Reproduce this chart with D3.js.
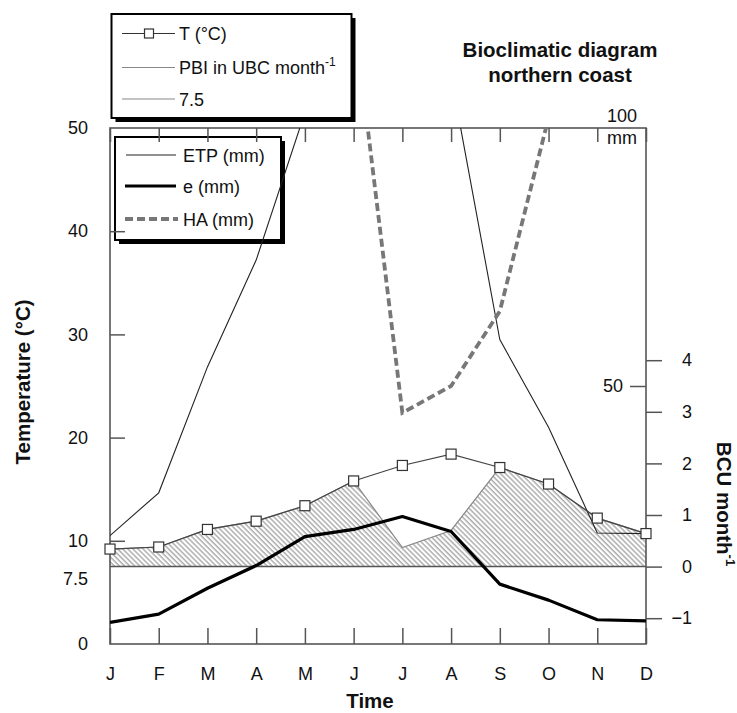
<!DOCTYPE html>
<html><head><meta charset="utf-8">
<script src="https://cdn.jsdelivr.net/npm/d3@7"></script>
<style>body{margin:0;background:#fff} text{font-family:"Liberation Sans",Arial,sans-serif;fill:#111}</style>
</head><body><svg id="c" width="737" height="713"></svg>
<script>
// ---- data ----
const months = ["J","F","M","A","M","J","J","A","S","O","N","D"];
const tempC  = [9.2,9.4,11.1,11.9,13.4,15.8,17.3,18.4,17.1,15.5,12.2,10.7];
const pbiBCU = [0.34,0.38,0.72,0.88,1.18,1.66,0.37,0.70,1.92,1.60,0.94,0.64];
const etpMM  = [21.0,29.3,53.7,74.4,103,125,130,110,59,42,21.5,21.4];
const eMM    = [4.2,5.8,10.8,15.2,20.8,22.2,24.7,21.8,11.6,8.5,4.7,4.5];
const haMM   = [null,null,null,null,null,122.4,44.8,50.0,64.5,102,null,null];
const thresholdT = 7.5;
const tempTicks = [0,7.5,10,20,30,40,50];
const bcuTicks = [-1,0,1,2,3,4];
const mmTicks = [50,100];
const legend1 = ["T (°C)","PBI in UBC month","7.5"];
const legend2 = ["ETP (mm)","e (mm)","HA (mm)"];

// ---- layout ----
const L=110,R=646,T=128,B=644;
const svg=d3.select("#c");
const x=d3.scalePoint().domain(d3.range(12)).range([L,R]);
const yT=d3.scaleLinear().domain([0,50]).range([B,T]);
const yMM=d3.scaleLinear().domain([0,100]).range([B,T]);
const yBCU=d3.scaleLinear().domain([0,4]).range([yT(thresholdT),yT(thresholdT+20)]);
const frameCol="#555";

const defs=svg.append("defs");
defs.append("clipPath").attr("id","plot").append("rect").attr("x",L).attr("y",T).attr("width",R-L).attr("height",B-T);
const pat=defs.append("pattern").attr("id","hatch").attr("patternUnits","userSpaceOnUse")
  .attr("width",3.6).attr("height",10).attr("patternTransform","rotate(-45)");
pat.append("line").attr("x1",1).attr("x2",1).attr("y1",0).attr("y2",10).attr("stroke","#666").attr("stroke-width",0.85);

// ---- legend 2 (inside plot, beneath data) ----
function legendBox(g,bx,by,bw,bh){
  g.append("rect").attr("x",bx+4).attr("y",by+4).attr("width",bw).attr("height",bh).attr("fill","#000");
  g.append("rect").attr("x",bx).attr("y",by).attr("width",bw).attr("height",bh).attr("fill","#fff").attr("stroke","#000").attr("stroke-width",2);
}
const lg2=svg.append("g");
legendBox(lg2,115,137,166,103);
const l2y=[155,186,219];
lg2.append("line").attr("x1",126).attr("x2",176).attr("y1",l2y[0]).attr("y2",l2y[0]).attr("stroke","#222").attr("stroke-width",1.1);
lg2.append("line").attr("x1",125).attr("x2",176).attr("y1",l2y[1]).attr("y2",l2y[1]).attr("stroke","#000").attr("stroke-width",3.2);
lg2.append("line").attr("x1",125).attr("x2",178).attr("y1",l2y[2]).attr("y2",l2y[2]).attr("stroke","#777").attr("stroke-width",3.8).attr("stroke-dasharray","8,4");
legend2.forEach((t,i)=>lg2.append("text").attr("x",183).attr("y",l2y[i]+6.5).attr("font-size",18).text(t));

// ---- hatched PBI area ----
const area=d3.area().x((d,i)=>x(i)).y0(yBCU(0)).y1(d=>yBCU(d));
svg.append("path").datum(pbiBCU).attr("d",area).attr("fill","url(#hatch)");
svg.append("path").datum(pbiBCU).attr("d",d3.line().x((d,i)=>x(i)).y(d=>yBCU(d)))
  .attr("fill","none").attr("stroke","#888").attr("stroke-width",1.2);
// threshold line
svg.append("line").attr("x1",L).attr("x2",R).attr("y1",yT(thresholdT)).attr("y2",yT(thresholdT)).attr("stroke","#555").attr("stroke-width",1.5);

// ---- axes / frame ----
const ax=svg.append("g");
function styleAxis(g){g.select(".domain").remove();g.selectAll(".tick line").attr("stroke",frameCol).attr("stroke-width",1.5);g.selectAll("text").attr("font-size",18).attr("font-family",'"Liberation Sans",Arial,sans-serif').attr("fill","#111");}
ax.append("g").attr("transform",`translate(0,${B})`)
  .call(d3.axisBottom(x).tickSize(-16).tickPadding(23).tickFormat(i=>months[i])).call(styleAxis);
ax.append("g").attr("transform",`translate(0,${T})`)
  .call(d3.axisTop(x).tickSize(-14).tickFormat("")).call(styleAxis);
const la=ax.append("g").attr("transform",`translate(${L},0)`)
  .call(d3.axisLeft(yT).tickValues(tempTicks).tickSize(-15).tickPadding(22).tickFormat(d=>d===7.5?"7.5":d3.format("d")(d))).call(styleAxis);
la.selectAll(".tick").filter(d=>d===7.5).select("text").attr("dy","1.0em");
la.selectAll(".tick").filter(d=>d===7.5||d===0||d===50).select("line").remove();
const ra=ax.append("g").attr("transform",`translate(${R},0)`)
  .call(d3.axisRight(yBCU).tickValues(bcuTicks).tickSize(16).tickPadding(0).tickFormat(d3.format("d"))).call(styleAxis);
ra.selectAll("text").attr("text-anchor","end").attr("x",46);
const ma=ax.append("g").attr("transform",`translate(${R},0)`)
  .call(d3.axisLeft(yMM).tickValues(mmTicks.filter(v=>v<100)).tickSize(16).tickPadding(7)).call(styleAxis);
ax.append("text").attr("x",637).attr("y",yMM(mmTicks[1])-6).attr("text-anchor","end").attr("font-size",18).text(mmTicks[1]);
ax.append("text").attr("x",637).attr("y",yMM(mmTicks[1])+16).attr("text-anchor","end").attr("font-size",18).text("mm");
ax.append("rect").attr("x",L).attr("y",T).attr("width",R-L).attr("height",B-T).attr("fill","none").attr("stroke",frameCol).attr("stroke-width",1.6);

// ---- data lines ----
const dg=svg.append("g").attr("clip-path","url(#plot)");
const lineOf=(sc)=>d3.line().defined(d=>d!=null).x((d,i)=>x(i)).y(d=>sc(d));
dg.append("path").datum(etpMM).attr("d",lineOf(yMM)).attr("fill","none").attr("stroke","#222").attr("stroke-width",1.1);
dg.append("path").datum(haMM).attr("d",lineOf(yMM)).attr("fill","none").attr("stroke","#777").attr("stroke-width",3.8).attr("stroke-dasharray","8,4");
dg.append("path").datum(eMM).attr("d",lineOf(yMM)).attr("fill","none").attr("stroke","#000").attr("stroke-width",3.2).attr("stroke-linejoin","round");
svg.append("path").datum(tempC).attr("d",lineOf(yT)).attr("fill","none").attr("stroke","#444").attr("stroke-width",1.2);
svg.selectAll("rect.sq").data(tempC).enter().append("rect").attr("class","sq")
  .attr("x",(d,i)=>x(i)-5).attr("y",d=>yT(d)-5).attr("width",10).attr("height",10)
  .attr("fill","#fff").attr("stroke","#333").attr("stroke-width",1.2);

// ---- legend 1 ----
const lg1=svg.append("g");
legendBox(lg1,111.5,14,240,104);
const l1y=[33.5,67.5,99];
lg1.append("line").attr("x1",122).attr("x2",175).attr("y1",l1y[0]).attr("y2",l1y[0]).attr("stroke","#333").attr("stroke-width",1.2);
lg1.append("rect").attr("x",144.5).attr("y",l1y[0]-4.5).attr("width",9).attr("height",9).attr("fill","#fff").attr("stroke","#333").attr("stroke-width",1.2);
lg1.append("line").attr("x1",122).attr("x2",175).attr("y1",l1y[1]).attr("y2",l1y[1]).attr("stroke","#888").attr("stroke-width",1.2);
lg1.append("line").attr("x1",122).attr("x2",175).attr("y1",l1y[2]).attr("y2",l1y[2]).attr("stroke","#888").attr("stroke-width",1.2);
legend1.forEach((t,i)=>{
  const tx=lg1.append("text").attr("x",179).attr("y",l1y[i]+6.5).attr("font-size",18).text(t);
  if(i===1) tx.append("tspan").attr("font-size",12).attr("dy",-8).text("-1");
});

// ---- titles ----
svg.append("text").attr("x",560).attr("y",56.5).attr("text-anchor","middle").attr("font-size",20.5).attr("font-weight","bold").text("Bioclimatic diagram");
svg.append("text").attr("x",560).attr("y",81.5).attr("text-anchor","middle").attr("font-size",20.5).attr("font-weight","bold").text("northern coast");
svg.append("text").attr("transform","translate(30,382) rotate(-90)").attr("text-anchor","middle").attr("font-size",20.5).attr("font-weight","bold").text("Temperature (°C)");
svg.append("text").attr("x",370).attr("y",708).attr("text-anchor","middle").attr("font-size",20.5).attr("font-weight","bold").text("Time");
const bl=svg.append("text").attr("transform","translate(717,504) rotate(90)").attr("text-anchor","middle").attr("font-size",20.5).attr("font-weight","bold").text("BCU month");
bl.append("tspan").attr("font-size",13).attr("dy",-9).text("-1");
</script></body></html>
